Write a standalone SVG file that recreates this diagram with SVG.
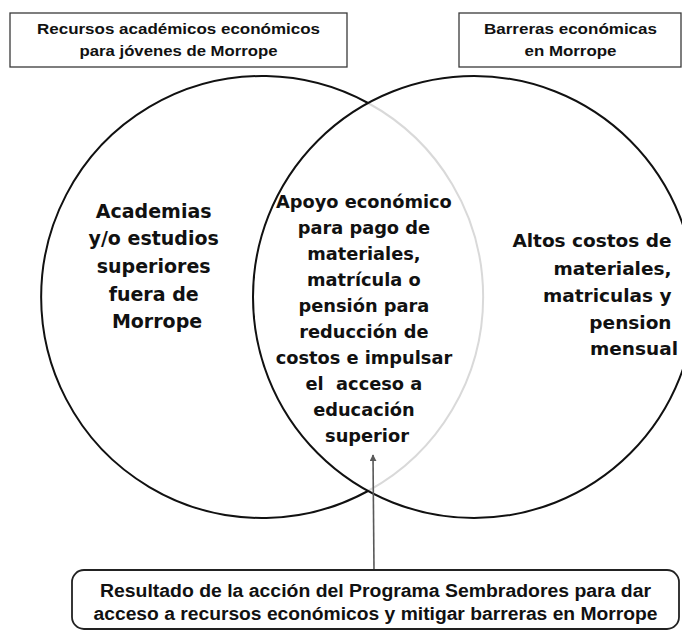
<svg xmlns="http://www.w3.org/2000/svg" width="682" height="631" viewBox="0 0 682 631">
<style>
.box{fill:#fff;stroke:#3a3a3a;stroke-width:1.3}
.rbox{fill:#fff;stroke:#222;stroke-width:1.8}
.circ{fill:none;stroke:#111;stroke-width:2}
.hdr{font-family:"Liberation Sans",Arial,sans-serif;font-weight:bold;font-size:15px;fill:#111;text-anchor:middle}
.big{font-family:"DejaVu Sans",sans-serif;font-weight:bold;fill:#111}
.bot{font-family:"Liberation Sans",Arial,sans-serif;font-weight:bold;font-size:18px;fill:#111;text-anchor:middle}
</style>
<defs>
<marker id="ah" viewBox="0 0 10 10" refX="9" refY="5" markerWidth="7" markerHeight="7" orient="auto" markerUnits="userSpaceOnUse">
<path d="M0,0 L10,5 L0,10 z" fill="#595959"/>
</marker>
</defs>
<rect width="682" height="631" fill="#fff"/>

<g id="box-recursos">
<rect class="box" x="10" y="13" width="337" height="54"/>
<text class="hdr" x="178.5" y="34" textLength="283" lengthAdjust="spacingAndGlyphs">Recursos académicos económicos</text>
<text class="hdr" x="178.5" y="56" textLength="198" lengthAdjust="spacingAndGlyphs">para jóvenes de Morrope</text>
</g>

<g id="box-barreras">
<rect class="box" x="459" y="13" width="222" height="54"/>
<text class="hdr" x="570.5" y="34" textLength="173" lengthAdjust="spacingAndGlyphs">Barreras económicas</text>
<text class="hdr" x="570.5" y="56" textLength="92" lengthAdjust="spacingAndGlyphs">en Morrope</text>
</g>

<g id="circle-left">
<path class="circ" d="M368,103 A221,221 0 1 0 368,491"/>
<path d="M368,103 A221,221 0 0 1 368,491" fill="none" stroke="#d9d9d9" stroke-width="2"/>
<text class="big" font-size="19" text-anchor="middle">
<tspan x="157" y="218">Academias</tspan>
<tspan x="157" y="245">y/o estudios</tspan>
<tspan x="157" y="273">superiores</tspan>
<tspan x="157" y="301">fuera de</tspan>
<tspan x="157" y="328">Morrope</tspan>
</text>
</g>

<g id="circle-right">
<circle class="circ" cx="474" cy="297" r="221"/>
<text class="big" font-size="18.5" text-anchor="end">
<tspan x="678" y="247">Altos costos de</tspan>
<tspan x="678" y="275">materiales,</tspan>
<tspan x="678" y="302">matriculas y</tspan>
<tspan x="678" y="329">pension</tspan>
<tspan x="678" y="355">mensual</tspan>
</text>
</g>

<g id="interseccion">
<text class="big" font-size="17.8" text-anchor="middle">
<tspan x="367" y="208">Apoyo económico</tspan>
<tspan x="367" y="234">para pago de</tspan>
<tspan x="367" y="260">materiales,</tspan>
<tspan x="367" y="286">matrícula o</tspan>
<tspan x="367" y="312">pensión para</tspan>
<tspan x="367" y="338">reducción de</tspan>
<tspan x="367" y="364">costos e impulsar</tspan>
<tspan x="367" y="390" xml:space="preserve">el  acceso a</tspan>
<tspan x="367" y="416">educación</tspan>
<tspan x="367" y="442">superior</tspan>
</text>
</g>

<g id="connectors">
<line x1="374" y1="570" x2="373" y2="455" stroke="#595959" stroke-width="1.6" marker-end="url(#ah)"/>
</g>

<g id="box-resultado">
<rect class="rbox" x="72" y="570" width="607" height="59" rx="12" ry="12"/>
<text class="bot" x="375.5" y="597" textLength="551" lengthAdjust="spacingAndGlyphs">Resultado de la acción del Programa Sembradores para dar</text>
<text class="bot" x="375.5" y="620" textLength="564" lengthAdjust="spacingAndGlyphs">acceso a recursos económicos y mitigar barreras en Morrope</text>
</g>
</svg>
